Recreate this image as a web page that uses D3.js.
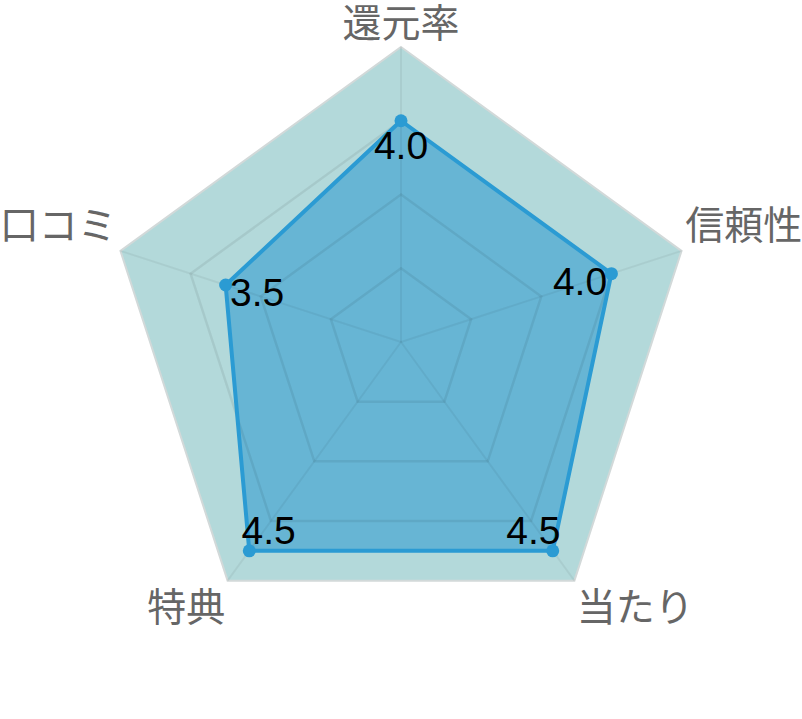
<!DOCTYPE html>
<html>
<head>
<meta charset="utf-8">
<script src="https://cdn.jsdelivr.net/npm/d3@7/dist/d3.min.js"></script>
<style>
  html, body { margin: 0; padding: 0; background: #ffffff; }
  svg { display: block; }
</style>
</head>
<body>
<svg id="chart" width="802" height="719"></svg>
<script>
const categories = ["還元率", "信頼性", "当たり", "特典", "口コミ"];
const values = [4.0, 4.0, 4.5, 4.5, 3.5];
const valueLabels = ["4.0", "4.0", "4.5", "4.5", "3.5"];
const ringTicks = [2, 3, 4, 5];
const scaleMin = 1, scaleMax = 5;

const W = 802, H = 719;
const cx = 401, cy = 342, R = 295;

const svg = d3.select("#chart");
const g = svg.append("g").attr("transform", `translate(${cx},${cy})`);

const r = d3.scaleLinear().domain([scaleMin, scaleMax]).range([0, R]);
const angle = d3.scaleLinear().domain([0, categories.length]).range([0, 2 * Math.PI]);

const radialLine = d3.lineRadial()
  .angle((d, i) => angle(i))
  .radius(d => r(d))
  .curve(d3.curveLinearClosed);

function pos(i, rad) {
  const a = angle(i);
  return [Math.sin(a) * rad, -Math.cos(a) * rad];
}

// background pentagon
g.append("path")
  .attr("d", radialLine(categories.map(() => scaleMax)))
  .attr("fill", "#b3d9da")
  .attr("stroke", "#d2d9d9")
  .attr("stroke-width", 2);

// data area
g.append("path")
  .attr("d", radialLine(values))
  .attr("fill", "rgba(40,152,208,0.55)")
  .attr("stroke", "none");

// grid rings
g.selectAll("path.ring")
  .data(ringTicks.filter(t => t < scaleMax))
  .join("path")
  .attr("class", "ring")
  .attr("d", t => radialLine(categories.map(() => t)))
  .attr("fill", "none")
  .attr("stroke", "rgba(0,0,0,0.07)")
  .attr("stroke-width", 2.5);

// spokes
g.selectAll("line.spoke")
  .data(categories)
  .join("line")
  .attr("class", "spoke")
  .attr("x1", 0).attr("y1", 0)
  .attr("x2", (d, i) => pos(i, r(scaleMax))[0])
  .attr("y2", (d, i) => pos(i, r(scaleMax))[1])
  .attr("stroke", "rgba(0,0,0,0.05)")
  .attr("stroke-width", 2);

// data outline
g.append("path")
  .attr("d", radialLine(values))
  .attr("fill", "none")
  .attr("stroke", "#2b9bd3")
  .attr("stroke-width", 4)
  .attr("stroke-linejoin", "round");

// points
g.selectAll("circle.pt")
  .data(values)
  .join("circle")
  .attr("class", "pt")
  .attr("cx", (d, i) => pos(i, r(d))[0])
  .attr("cy", (d, i) => pos(i, r(d))[1])
  .attr("r", 6.5)
  .attr("fill", "#2b9bd3");

// value labels (offset toward the centre)
g.selectAll("text.val")
  .data(values)
  .join("text")
  .attr("class", "val")
  .attr("x", (d, i) => { const a = angle(i); return Math.sin(a) * r(d) - Math.sin(a) * 33; })
  .attr("y", (d, i) => { const a = angle(i); return -Math.cos(a) * r(d) + Math.cos(a) * 25; })
  .attr("text-anchor", "middle")
  .attr("dominant-baseline", "central")
  .attr("font-family", "'Liberation Sans', Arial, sans-serif")
  .attr("font-size", 39)
  .attr("fill", "#000")
  .text((d, i) => valueLabels[i]);

// axis labels
g.selectAll("text.axis")
  .data(categories)
  .join("text")
  .attr("class", "axis")
  .attr("x", (d, i) => pos(i, R + 4)[0])
  .attr("y", (d, i) => {
    const p = pos(i, R + 4);
    const c = Math.cos(angle(i));
    return c > 0.99 ? p[1] - 23 : (c > 0 ? p[1] - 28 : p[1] + 20);
  })
  .attr("text-anchor", (d, i) => {
    const s = Math.sin(angle(i));
    return Math.abs(s) < 0.01 ? "middle" : (s > 0 ? "start" : "end");
  })
  .attr("dominant-baseline", "central")
  .attr("font-family", "'Noto Sans CJK JP', 'Noto Sans', sans-serif")
  .attr("font-size", 39)
  .attr("fill", "#666")
  .text(d => d);
</script>
</body>
</html>
